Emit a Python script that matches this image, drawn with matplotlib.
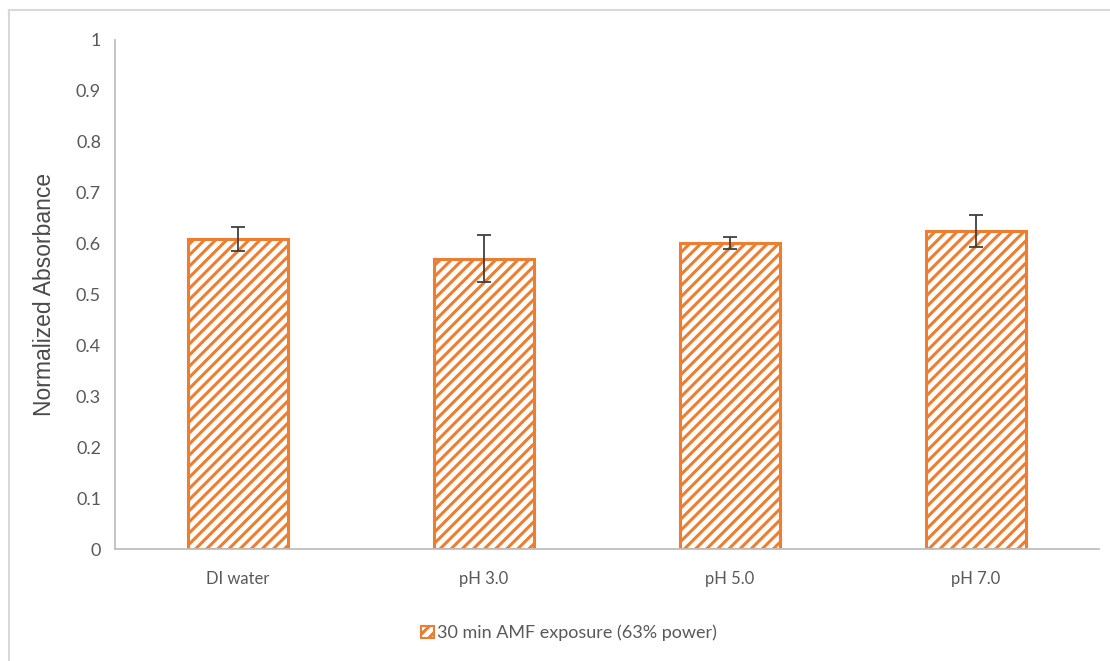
import matplotlib
matplotlib.use("Agg")
import matplotlib.pyplot as plt
from matplotlib.lines import Line2D
from matplotlib.patches import Patch

categories = ["DI water", "pH 3.0", "pH 5.0", "pH 7.0"]
values = [0.609, 0.570, 0.601, 0.625]
errors = [0.024, 0.046, 0.012, 0.032]
yticks = [0, 0.1, 0.2, 0.3, 0.4, 0.5, 0.6, 0.7, 0.8, 0.9, 1]
series_label = "30 min AMF exposure (63% power)"

orange = "#ED7D31"
text_gray = "#595959"
axis_gray = "#BFBFBF"

plt.rcParams["hatch.linewidth"] = 2.2
plt.rcParams["hatch.color"] = orange

fig = plt.figure(figsize=(11.10, 6.61), dpi=100)
ax = fig.add_axes([115 / 1110, 1 - 549 / 661, (1099 - 115) / 1110, (549 - 40) / 661])

x = list(range(len(categories)))
ax.bar(x, values, width=0.405, color="white", edgecolor=orange,
       linewidth=2.2, hatch="///", zorder=2)
ax.errorbar(x, values, yerr=errors, fmt="none", ecolor="#404040",
            elinewidth=1.3, capsize=5, capthick=1.3, zorder=3)

ax.set_xlim(-0.5, len(categories) - 0.5)
ax.set_ylim(0, 1)
ax.set_yticks(yticks)
ax.set_yticklabels([f"{t:g}" for t in yticks])
ax.set_xticks(x)
ax.set_xticklabels(categories)

label_font = ["Lato", "DejaVu Sans"]
for lab in ax.get_yticklabels():
    lab.set_fontfamily(label_font)
    lab.set_fontsize(13)
    lab.set_color(text_gray)
for lab in ax.get_xticklabels():
    lab.set_fontfamily(label_font)
    lab.set_fontsize(12)
    lab.set_color(text_gray)
ax.tick_params(axis="both", length=0)
ax.tick_params(axis="y", pad=10)
ax.tick_params(axis="x", pad=16)

for side in ("top", "right"):
    ax.spines[side].set_visible(False)
for side in ("left", "bottom"):
    ax.spines[side].set_color(axis_gray)
    ax.spines[side].set_linewidth(1.3)

ax.set_ylabel("Normalized Absorbance", fontsize=16.5, color="#4a4a4a",
              family=["Liberation Sans", "DejaVu Sans"])
ax.yaxis.set_label_coords((56 - 115) / 984, 0.5)

handle = Patch(facecolor="white", edgecolor=orange, hatch="///", linewidth=1.5)
leg = fig.legend([handle], [series_label], loc="center",
                 bbox_to_anchor=(569 / 1110, 1 - 633 / 661), frameon=False,
                 prop={"family": label_font, "size": 13},
                 handlelength=0.7, handleheight=0.7, handletextpad=0.2)
for t in leg.get_texts():
    t.set_color(text_gray)

# Chart-area frame (left and top edges)
fig.add_artist(Line2D([9 / 1110, 9 / 1110], [0, 1 - 10 / 661],
                      transform=fig.transFigure, color="#D9D9D9", linewidth=1.5))
fig.add_artist(Line2D([9 / 1110, 1], [1 - 10 / 661, 1 - 10 / 661],
                      transform=fig.transFigure, color="#D9D9D9", linewidth=1.5))

fig.savefig("out.png", dpi=100, facecolor="white")
